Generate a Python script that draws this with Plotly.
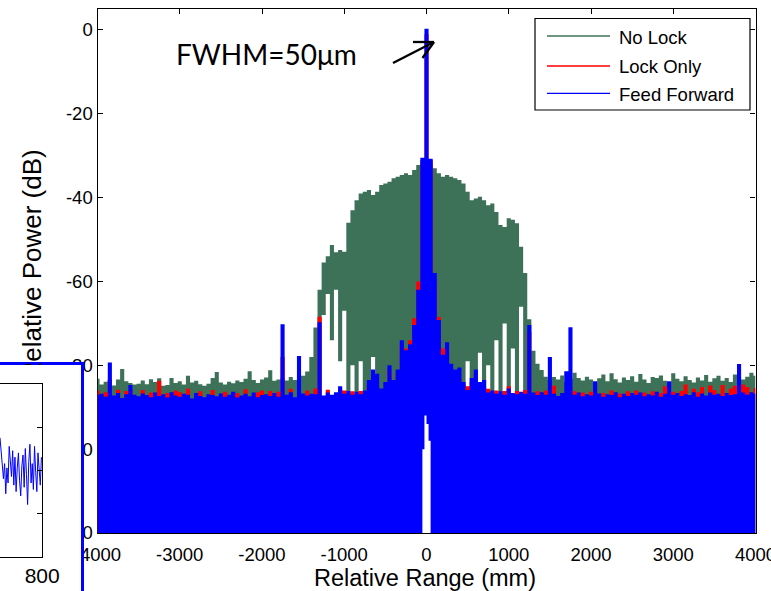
import plotly.graph_objects as go

W, H = 771, 591

# ---------------- data ----------------
bin_mm = list(range(-4000, 4001, 50))  # relative range bins (mm)

nolock_db = [
    -83.2, -84.6, -83.9, -83.5, -84.8, -83.4, -80.9, -83.8, -84.2, -84.6,
    -84.4, -83.6, -84.5, -83.3, -84.0, -83.1, -84.9, -84.7, -83.0, -84.2,
    -83.8, -84.6, -82.5, -84.1, -83.7, -84.5, -84.9, -84.4, -83.0, -81.6,
    -84.1, -84.6, -83.9, -84.3, -83.6, -84.0, -83.2, -81.4, -83.5, -84.2,
    -83.4, -82.9, -81.2, -83.7, -83.4, -83.0, -83.6, -82.8, -83.5, -82.2,
    -82.5, -81.5, -78.0, -71.0, -62.0, -55.5, -54.0, -51.3, -53.0, -52.5,
    -52.9, -46.0, -43.0, -40.6, -39.0, -38.6, -38.2, -39.4, -38.6, -37.0,
    -36.6, -36.2, -35.4, -35.0, -34.6, -34.2, -34.6, -33.4, -32.2, -31.0,
    -31.0, -31.8, -33.0, -34.2, -35.0, -34.6, -35.0, -35.4, -35.8, -36.6,
    -38.6, -40.6, -40.2, -39.8, -40.6, -41.8, -41.4, -43.4, -46.5, -47.0,
    -44.9, -45.3, -46.1, -51.7, -58.0, -69.0, -76.5, -79.6, -81.1, -82.7,
    -83.5, -82.8, -83.4, -82.4, -83.9, -83.2, -81.8, -83.0, -83.6, -82.7,
    -83.4, -84.0, -83.1, -82.2, -83.8, -81.9, -83.3, -84.1, -82.9, -83.5,
    -82.6, -83.9, -82.1, -83.4, -84.2, -82.8, -83.0, -82.4, -83.7, -84.0,
    -81.9, -83.2, -83.8, -82.6, -83.5, -84.1, -82.9, -83.6, -82.3, -83.9,
    -83.1, -82.5, -83.7, -83.0, -84.0, -82.2, -82.9, -83.4, -82.7, -81.8, -82.5,
]

lockonly_db = [
    -86.0, -87.3, -86.4, -83.3, -87.6, -85.8, -88.0, -86.1, -86.0, -87.4,
    -87.8, -85.9, -87.5, -86.5, -87.0, -83.7, -87.3, -86.6, -86.9, -86.0,
    -86.4, -87.2, -85.6, -88.2, -87.1, -86.2, -88.0, -87.4, -85.9, -87.8,
    -87.1, -86.3, -87.4, -86.8, -86.6, -87.6, -85.7, -87.8, -86.9, -86.4,
    -86.0, -87.3, -86.1, -87.0, -86.3, -78.0, -87.4, -85.6, -87.9, -86.6,
    -87.1, -86.0, -87.2, -85.5, -68.4, -87.6, -85.8, -87.4, -86.9, -85.6,
    -86.0, -86.6, -86.2, -86.8, -86.1, -86.5, -84.5, -85.5, -85.0, -86.0,
    -85.4, -81.0, -84.0, -82.0, -75.0, -76.0, -74.0, -68.8, -60.0, -32.0,
    -1.0, -31.0, -60.0, -68.5, -76.0, -76.0, -80.5, -82.0, -83.0, -84.5,
    -85.0, -84.0, -82.0, -84.6, -85.2, -85.6, -86.5, -86.0, -86.8, -86.1,
    -85.0, -87.0, -86.1, -86.9, -85.9, -72.0, -87.0, -86.2, -86.9, -86.0,
    -86.0, -84.9, -87.6, -87.0, -86.5, -85.2, -86.2, -87.0, -86.5, -87.3,
    -86.3, -86.1, -87.1, -86.6, -87.3, -86.0, -86.8, -86.7, -87.2, -86.2,
    -87.0, -86.0, -86.9, -86.5, -87.3, -86.2, -86.7, -86.6, -85.0, -86.2,
    -86.3, -87.0, -86.1, -84.6, -87.4, -85.6, -86.4, -85.2, -87.5, -84.8,
    -85.9, -87.2, -84.7, -86.9, -85.5, -84.9, -85.8, -84.6, -85.2, -86.8, -85.4,
]

feedfwd_db = [
    -87.0, -86.8, -87.5, -79.3, -87.2, -86.6, -87.8, -86.9, -84.7, -87.0,
    -87.4, -86.7, -87.1, -87.6, -86.5, -87.3, -86.9, -87.7, -86.4, -87.2,
    -87.5, -86.8, -87.0, -87.9, -86.6, -87.3, -87.6, -86.9, -87.1, -87.4,
    -86.7, -87.5, -87.0, -86.3, -87.7, -87.2, -86.8, -87.4, -86.5, -87.6,
    -87.1, -86.9, -87.3, -86.6, -87.5, -70.2, -87.0, -86.4, -87.6, -77.8,
    -86.7, -87.2, -86.8, -86.9, -69.7, -87.2, -86.5, -87.0, -86.4, -85.0,
    -86.8, -86.1, -87.0, -86.3, -86.9, -86.0, -83.5, -81.0, -82.0, -85.5,
    -84.0, -80.0, -83.5, -81.0, -74.0, -76.4, -75.0, -70.4, -62.0, -30.5,
    0.3, -30.7, -58.0, -69.2, -77.5, -74.5, -79.6, -81.0, -80.5, -84.0,
    -85.9, -83.0, -81.0, -84.0, -83.5, -86.5, -86.0, -86.8, -86.2, -87.0,
    -85.5, -86.6, -86.9, -86.3, -86.8, -70.4, -86.5, -87.1, -86.4, -87.0,
    -78.0, -86.8, -87.3, -86.6, -81.4, -70.9, -87.0, -86.5, -87.4, -86.9,
    -87.2, -83.8, -86.7, -87.5, -86.9, -87.1, -86.4, -87.6, -86.8, -87.3,
    -86.6, -87.0, -86.5, -87.4, -86.9, -87.2, -86.3, -87.5, -86.8, -83.8,
    -87.0, -86.6, -87.3, -86.9, -87.1, -86.4, -87.5, -86.7, -87.2, -86.5,
    -87.0, -86.8, -87.3, -86.6, -87.1, -86.9, -79.7, -86.5, -87.0, -86.4, -86.8,
]

# lower edge of the No Lock trace inside the hump (bins -1350 .. 1500 mm);
# -125 means it reaches below the axis
nolock_hump_floor = [
    -125, -125, -68, -63, -74, -62, -79, -67, -125, -80,
    -125, -79, -125, -125, -78, -125, -125, -125, -125, -125,
    -125, -125, -125, -125, -125, -125, -125, -125, -125, -125,
    -125, -125, -125, -125, -125, -125, -125, -79, -125, -125,
    -77, -125, -80, -125, -74, -125, -70, -125, -76, -125,
    -66, -125, -125, -125, -125, -125, -125, -125,
]
hump_start_mm = -1350

# lowest level reached by all traces right at the peak (white notch)
notch_mm = [-62.5, -37.5, -12.5, 12.5, 37.5, 62.5]
notch_floor_db = [-125, -100, -92, -94, -98, -125]

series_names = ["No Lock", "Lock Only", "Feed Forward"]
series_colors = ["#3d7258", "#ff0000", "#0000ff"]

x_ticks = [-4000, -3000, -2000, -1000, 0, 1000, 2000, 3000, 4000]
x_tick_text = ["-4000", "-3000", "-2000", "-1000", "0", "1000", "2000", "3000", "4000"]
y_ticks = [0, -20, -40, -60, -80, -100, -120]
y_tick_text = ["0", "-20", "-40", "-60", "-80", "-100", "-120"]

inset_x = list(range(690, 799, 3))
inset_y = [
    0.75, 0.35, 0.10, -0.20, 0.15, -0.55, 0.05, -0.30, 0.55, 0.20,
    -0.15, 0.45, -0.35, 0.30, -0.50, 0.05, 0.40, -0.25, -0.60, 0.10,
    0.35, -0.40, 0.50, -0.10, -0.80, 0.20, 0.60, -0.30, 0.15, -0.45,
    0.55, -0.05, -0.50, 0.40, 0.00, -0.35, 0.30,
]

# ---------------- helpers ----------------
FONT = "Liberation Sans, Arial, sans-serif"
AXIS_FLOOR = -125.0


def px(xp):
    return xp / W


def py(yp):
    return 1 - yp / H


n = len(bin_mm)
ih = bin_mm.index(hump_start_mm)
nolock_floor = [AXIS_FLOOR] * n
for k, v in enumerate(nolock_hump_floor):
    nolock_floor[ih + k] = v

tops = {"No Lock": nolock_db, "Lock Only": lockonly_db, "Feed Forward": feedfwd_db}

fig = go.Figure()

# dummy full-page subplot (so the inset panels get their own opaque backgrounds)
fig.add_trace(go.Scatter(x=[], y=[], xaxis="x", yaxis="y", showlegend=False))


def band(xs, ys, color):
    """filled step area from below the axis up to ys"""
    fig.add_trace(go.Scatter(x=xs, y=[AXIS_FLOOR] * len(xs), mode="lines",
                             line=dict(width=0), showlegend=False, hoverinfo="skip",
                             xaxis="x2", yaxis="y2"))
    fig.add_trace(go.Scatter(x=xs, y=ys, mode="lines", line=dict(width=0, shape="hvh"),
                             fill="tonexty", fillcolor=color, showlegend=False,
                             hoverinfo="skip", xaxis="x2", yaxis="y2"))


for name, color in zip(series_names, series_colors):
    band(bin_mm, tops[name], color)
    if name == "No Lock":
        # where the No Lock trace does not reach down, the page shows through
        band(bin_mm, nolock_floor, "white")
band(notch_mm, notch_floor_db, "white")

# inset (partially visible second figure)
fig.add_trace(go.Scatter(x=[], y=[], xaxis="x3", yaxis="y3", showlegend=False))
fig.add_trace(go.Scatter(x=inset_x, y=inset_y, mode="lines",
                         line=dict(color="#0000ff", width=1),
                         xaxis="x4", yaxis="y4", showlegend=False, hoverinfo="skip"))

tickfont = dict(family=FONT, size=18.5, color="black")
main_ax = dict(showline=True, linecolor="black", linewidth=1.2, mirror="ticks",
               ticks="inside", ticklen=5, tickcolor="black", tickwidth=1,
               showgrid=False, zeroline=False, tickfont=tickfont, layer="below traces",
               automargin=False, ticklabeloverflow="allow")
plain = dict(showgrid=False, zeroline=False, automargin=False)

fig.update_layout(
    template="none",
    width=W, height=H, margin=dict(l=0, r=0, t=0, b=0, pad=0), autosize=False,
    paper_bgcolor="white", plot_bgcolor="white", showlegend=False,
    xaxis=dict(domain=[0, 1], range=[0, 1], visible=False, anchor="y", **plain),
    yaxis=dict(domain=[0, 1], range=[0, 1], visible=False, anchor="x", **plain),
    xaxis2=dict(domain=[px(97.5), px(755.5)], range=[-4000, 4000], anchor="y2",
                tickvals=x_ticks, ticktext=x_tick_text, ticklabelstandoff=5, **main_ax),
    yaxis2=dict(domain=[py(533), py(9)], range=[-120, 5], anchor="x2",
                tickvals=y_ticks, ticktext=y_tick_text, **main_ax),
    xaxis3=dict(domain=[0, px(81.4)], range=[0, 1], anchor="y3", side="top",
                showline=True, linecolor="#0000ff", linewidth=2.6,
                showticklabels=False, ticks="", **plain),
    yaxis3=dict(domain=[0, py(364.6)], range=[0, 1], anchor="x3", side="right",
                showline=True, linecolor="#0000ff", linewidth=2.6,
                showticklabels=False, ticks="", **plain),
    xaxis4=dict(domain=[0, px(42.2)], range=[690, 800], anchor="y4",
                tickvals=[800], ticktext=["800"], ticks="inside", ticklen=5,
                tickcolor="black", showline=True, mirror=True, linecolor="black",
                linewidth=1, tickfont=dict(family=FONT, size=21, color="black"), **plain),
    yaxis4=dict(domain=[py(557), py(384)], range=[-2.02, 2.0], anchor="x4",
                side="right", tickvals=[-1, 0, 1], ticks="inside", ticklen=5,
                tickcolor="black", showticklabels=False, showline=True,
                linecolor="black", linewidth=1, **plain),
)

shapes = []
# inset dotted grid lines
for gy in (1, -1):
    shapes.append(dict(type="line", xref="x4 domain", x0=0, x1=1, yref="y4", y0=gy, y1=gy,
                       line=dict(color="black", width=1, dash="dot"), layer="below"))

# legend box
shapes.append(dict(type="rect", xref="paper", yref="paper",
                   x0=px(535), x1=px(750), y0=py(110), y1=py(18.5),
                   line=dict(color="black", width=1.2), fillcolor="white", layer="above"))
legend_rows = [36, 66, 93.3]
for row, color in zip(legend_rows, series_colors):
    shapes.append(dict(type="line", xref="paper", yref="paper",
                       x0=px(547), x1=px(610), y0=py(row), y1=py(row),
                       line=dict(color=color, width=1.3), layer="above"))

# FWHM arrow
arrow = [((393, 63), (434, 42)), ((434, 42), (413, 42)), ((434, 42), (422.5, 58))]
for (xa, ya), (xb, yb) in arrow:
    shapes.append(dict(type="line", xref="paper", yref="paper",
                       x0=px(xa), y0=py(ya), x1=px(xb), y1=py(yb),
                       line=dict(color="black", width=2.3), layer="above"))
fig.update_layout(shapes=shapes)

ann = []
for row, name in zip(legend_rows, series_names):
    ann.append(dict(x=px(617), y=py(row + 1), xref="paper", yref="paper",
                    text=name, showarrow=False, xanchor="left", yanchor="middle",
                    font=dict(family=FONT, size=18.5, color="black")))
ann.append(dict(x=px(266), y=py(54), xref="paper", yref="paper", text="FWHM=50μm",
                showarrow=False, xanchor="center", yanchor="middle",
                font=dict(family="Lato, Carlito, sans-serif", size=28, color="black")))
ann.append(dict(x=px(425), y=py(578), xref="paper", yref="paper", text="Relative Range (mm)",
                showarrow=False, xanchor="center", yanchor="middle",
                font=dict(family=FONT, size=23.5, color="black")))
ann.append(dict(x=px(31), y=py(265.5), xref="paper", yref="paper", text="Relative Power (dB)",
                textangle=-90, showarrow=False, xanchor="center", yanchor="middle",
                font=dict(family=FONT, size=26, color="black")))
# the inset panel hides the start of the y-axis title
ann.append(dict(x=px(30), y=py(374), xref="paper", yref="paper", text=" ",
                width=40, height=18, bgcolor="white", borderpad=0, borderwidth=0,
                showarrow=False, xanchor="center", yanchor="middle"))
fig.update_layout(annotations=ann)

fig.write_html("out.html", config={"displayModeBar": False},
               post_script="document.body.style.margin = '0px';")
